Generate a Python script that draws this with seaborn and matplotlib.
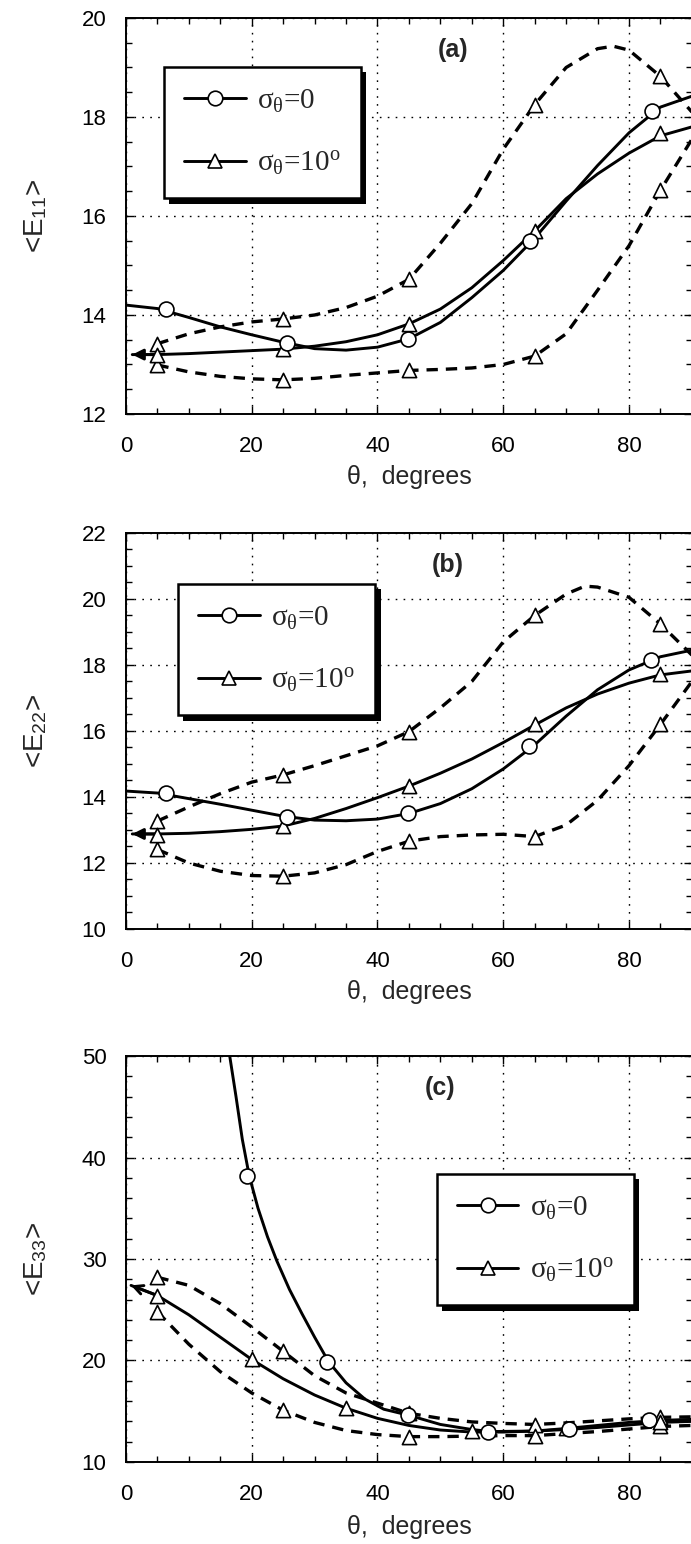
import numpy as np
import pandas as pd
import matplotlib
matplotlib.use("Agg")
import matplotlib.pyplot as plt
import matplotlib.patheffects as pe
from matplotlib.lines import Line2D
from matplotlib.ticker import MultipleLocator
import seaborn as sns

# ---------------- data ----------------
# panel (a) <E11>
a_s0_x = [0, 5, 10, 15, 20, 25, 30, 35, 40, 45, 50, 55, 60, 65, 70, 75, 80, 85, 90]
a_s0_y = [14.20, 14.13, 13.95, 13.76, 13.60, 13.45, 13.32, 13.29, 13.35, 13.52, 13.85,
          14.35, 14.90, 15.55, 16.30, 17.02, 17.68, 18.20, 18.42]
a_s10_x = [1, 5, 10, 15, 20, 25, 30, 35, 40, 45, 50, 55, 60, 65, 70, 75, 80, 85, 90]
a_s10_y = [13.20, 13.20, 13.22, 13.25, 13.28, 13.31, 13.37, 13.46, 13.60, 13.82, 14.12,
           14.55, 15.10, 15.70, 16.35, 16.85, 17.27, 17.62, 17.80]
a_up_x = [5, 10, 15, 20, 25, 30, 35, 40, 45, 50, 55, 60, 65, 70, 75, 77.5, 80, 85, 90]
a_up_y = [13.42, 13.62, 13.76, 13.86, 13.92, 14.00, 14.15, 14.38, 14.72, 15.45, 16.25,
          17.35, 18.25, 19.00, 19.38, 19.43, 19.35, 18.82, 18.10]
a_lo_x = [5, 10, 15, 20, 25, 30, 35, 40, 45, 50, 55, 60, 65, 70, 75, 80, 85, 90]
a_lo_y = [12.99, 12.85, 12.76, 12.71, 12.69, 12.72, 12.78, 12.83, 12.88, 12.90, 12.93,
          13.00, 13.17, 13.62, 14.50, 15.40, 16.52, 17.55]
a_circ_x = [6.4, 25.6, 44.8, 64.2, 83.6]
a_circ_y = [14.12, 13.44, 13.52, 15.50, 18.13]
a_tri_x = [5, 25, 45, 65, 85]
a_tri_y = [13.19, 13.31, 13.82, 15.70, 17.67]
a_triup_y = [13.42, 13.92, 14.72, 18.25, 18.82]
a_trilo_y = [12.99, 12.69, 12.88, 13.17, 16.52]

# panel (b) <E22>
b_s0_x = [0, 5, 10, 15, 20, 25, 30, 35, 40, 45, 50, 55, 60, 65, 70, 75, 80, 85, 90]
b_s0_y = [14.18, 14.12, 13.95, 13.78, 13.60, 13.42, 13.30, 13.28, 13.33, 13.50, 13.80,
          14.25, 14.85, 15.58, 16.45, 17.25, 17.85, 18.25, 18.45]
b_s10_x = [1, 5, 10, 15, 20, 25, 30, 35, 40, 45, 50, 55, 60, 65, 70, 75, 80, 85, 90]
b_s10_y = [12.88, 12.88, 12.90, 12.95, 13.02, 13.12, 13.35, 13.65, 13.98, 14.33, 14.72,
           15.15, 15.65, 16.18, 16.70, 17.12, 17.45, 17.70, 17.82]
b_up_x = [5, 10, 15, 20, 25, 30, 35, 40, 45, 50, 55, 60, 65, 70, 73, 75, 80, 85, 90]
b_up_y = [13.27, 13.70, 14.10, 14.45, 14.67, 14.95, 15.25, 15.55, 15.98, 16.70, 17.50,
          18.70, 19.50, 20.15, 20.39, 20.36, 20.05, 19.24, 18.30]
b_lo_x = [5, 10, 15, 20, 25, 30, 35, 40, 45, 50, 55, 60, 65, 70, 75, 80, 85, 90]
b_lo_y = [12.41, 12.00, 11.75, 11.62, 11.60, 11.70, 11.95, 12.35, 12.66, 12.80, 12.85,
          12.87, 12.80, 13.15, 13.90, 14.95, 16.20, 17.50]
b_circ_x = [6.3, 25.6, 44.8, 64.1, 83.5]
b_circ_y = [14.11, 13.40, 13.50, 15.55, 18.15]
b_tri_x = [5, 25, 45, 65, 85]
b_tri_y = [12.85, 13.12, 14.33, 16.20, 17.72]
b_triup_y = [13.27, 14.67, 15.98, 19.50, 19.24]
b_trilo_y = [12.41, 11.60, 12.66, 12.80, 16.20]

# panel (c) <E33>
c_s0_x = [16.5, 17.5, 18.5, 19.6, 21, 22.5, 24, 26, 28, 30, 32.2, 35, 38, 41, 45, 50,
          55, 58, 65, 70, 75, 80, 85, 90]
c_s0_y = [50.0, 46.0, 41.8, 38.2, 35.0, 32.2, 29.8, 27.0, 24.6, 22.3, 19.9, 17.8, 16.2,
          15.2, 14.6, 13.7, 13.2, 13.0, 13.05, 13.3, 13.6, 13.9, 14.1, 14.2]
c_s10_x = [0.8, 5, 10, 15, 20, 25, 30, 35, 40, 45, 50, 55, 60, 65, 70, 75, 80, 85, 90]
c_s10_y = [27.4, 26.4, 24.5, 22.3, 20.1, 18.2, 16.6, 15.3, 14.3, 13.6, 13.15, 12.95,
           12.95, 13.05, 13.2, 13.4, 13.65, 13.9, 14.0]
c_up_x = [5, 10, 15, 20, 25, 30, 35, 40, 45, 50, 55, 60, 65, 70, 75, 80, 85, 90]
c_up_y = [28.2, 27.4, 25.6, 23.3, 20.9, 18.5, 16.8, 15.8, 14.8, 14.3, 13.95, 13.8, 13.7,
          13.85, 14.05, 14.25, 14.4, 14.45]
c_lo_x = [5, 10, 15, 20, 25, 30, 35, 40, 45, 50, 55, 60, 65, 70, 75, 80, 85, 90]
c_lo_y = [24.8, 21.6, 18.9, 16.8, 15.1, 13.9, 13.1, 12.7, 12.5, 12.5, 12.55, 12.6, 12.6,
          12.8, 13.0, 13.25, 13.5, 13.6]
c_circ_x = [19.2, 32.0, 44.8, 57.6, 70.4, 83.2]
c_circ_y = [38.2, 19.9, 14.6, 13.0, 13.3, 14.1]
c_tri_x = [5, 20, 35, 55, 70, 85]
c_tri_y = [26.4, 20.1, 15.3, 13.1, 13.35, 13.9]
c_tridash_x = [5, 25, 45, 65, 85]
c_triup_y = [28.2, 20.9, 14.8, 13.6, 14.4]
c_trilo_y = [24.8, 15.1, 12.5, 12.6, 13.5]

legend_labels = [r'$\mathrm{\sigma_{\theta}}$=0', r'$\mathrm{\sigma_{\theta}}$=10$^{\mathrm{o}}$']
panel_tags = ['(a)', '(b)', '(c)']
ylabels = [r'<E$_{\mathsf{11}}$>', r'<E$_{\mathsf{22}}$>', r'<E$_{\mathsf{33}}$>']
xlabel = 'θ,  degrees'

# ---------------- style ----------------
sns.set_style('ticks')
plt.rcParams['font.family'] = ['Liberation Sans', 'DejaVu Sans']
plt.rcParams['mathtext.fontset'] = 'custom'
plt.rcParams['mathtext.rm'] = 'Liberation Serif'
plt.rcParams['mathtext.it'] = 'Liberation Serif:italic'
plt.rcParams['mathtext.bf'] = 'Liberation Serif:bold'
plt.rcParams['mathtext.sf'] = 'Liberation Sans'

fig = plt.figure(figsize=(6.91, 15.44), dpi=100)
W = 0.8190
axes = [fig.add_axes([0.1823, 0.73187, W, 0.25648]),
        fig.add_axes([0.1823, 0.39832, W, 0.25648]),
        fig.add_axes([0.1823, 0.05311, W, 0.26295])]

SOLID_LW = 2.1
DASH_LW = 2.4


def draw_curve(ax, x, y, dashed=False):
    sns.lineplot(x=x, y=y, ax=ax, color='k', lw=DASH_LW if dashed else SOLID_LW,
                 sort=False, estimator=None, legend=False, zorder=3)
    line = ax.lines[-1]
    if dashed:
        line.set_dashes([3.4, 2.4])
        line.set_dash_capstyle('butt')
    return line


def draw_markers(ax, x, y, marker):
    sns.scatterplot(x=x, y=y, ax=ax, marker=marker, s=115 if marker == 'o' else 105,
                    color='white', edgecolor='k', linewidth=1.2, zorder=5, legend=False,
                    clip_on=False)


def draw_arrow(ax, x, y, filled=True):
    ax.annotate('', xy=(x[0], y[0]), xytext=(x[1], y[1]),
                arrowprops=dict(arrowstyle='-|>' if filled else '->', color='k',
                                lw=SOLID_LW, mutation_scale=16, shrinkA=0, shrinkB=0),
                zorder=4)


panels = [
    dict(s0=(a_s0_x, a_s0_y), s10=(a_s10_x, a_s10_y), up=(a_up_x, a_up_y), lo=(a_lo_x, a_lo_y),
         circ=(a_circ_x, a_circ_y), tri=(a_tri_x, a_tri_y),
         tup=(a_tri_x, a_triup_y), tlo=(a_tri_x, a_trilo_y),
         ylim=(12, 20), ymaj=2, ymin=0.5, tag_xy=(52, 19.35), leg=(0.067, 0.876), filled=True),
    dict(s0=(b_s0_x, b_s0_y), s10=(b_s10_x, b_s10_y), up=(b_up_x, b_up_y), lo=(b_lo_x, b_lo_y),
         circ=(b_circ_x, b_circ_y), tri=(b_tri_x, b_tri_y),
         tup=(b_tri_x, b_triup_y), tlo=(b_tri_x, b_trilo_y),
         ylim=(10, 22), ymaj=2, ymin=0.5, tag_xy=(51.2, 21.04), leg=(0.092, 0.871), filled=True),
    dict(s0=(c_s0_x, c_s0_y), s10=(c_s10_x, c_s10_y), up=(c_up_x, c_up_y), lo=(c_lo_x, c_lo_y),
         circ=(c_circ_x, c_circ_y), tri=(c_tri_x, c_tri_y),
         tup=(c_tridash_x, c_triup_y), tlo=(c_tridash_x, c_trilo_y),
         ylim=(10, 50), ymaj=10, ymin=2, tag_xy=(50, 46.8), leg=(0.549, 0.709), filled=False),
]

for i, (ax, p) in enumerate(zip(axes, panels)):
    ax.set_xlim(0, 90)
    ax.set_ylim(*p['ylim'])
    ax.set_axisbelow(True)
    ax.grid(True, which='major', color='k', lw=1.0, linestyle=(0, (1.2, 4.5)))
    ax.xaxis.set_major_locator(MultipleLocator(20))
    ax.xaxis.set_minor_locator(MultipleLocator(5))
    ax.yaxis.set_major_locator(MultipleLocator(p['ymaj']))
    ax.yaxis.set_minor_locator(MultipleLocator(p['ymin']))
    ax.tick_params(which='both', direction='in', top=True, right=True, width=1.0, colors='k')
    ax.tick_params(which='major', length=6)
    ax.tick_params(which='minor', length=4.5)
    ax.tick_params(axis='x', which='major', pad=16, labelsize=16)
    ax.tick_params(axis='y', which='major', pad=14, labelsize=16)
    for sp in ax.spines.values():
        sp.set_linewidth(1.4)
        sp.set_color('k')

    draw_curve(ax, *p['up'], dashed=True)
    draw_curve(ax, *p['lo'], dashed=True)
    draw_curve(ax, *p['s0'])
    draw_curve(ax, *p['s10'])
    draw_arrow(ax, *p['s10'], filled=p['filled'])

    draw_markers(ax, *p['tup'], '^')
    draw_markers(ax, *p['tlo'], '^')
    draw_markers(ax, *p['tri'], '^')
    draw_markers(ax, *p['circ'], 'o')

    ax.text(*p['tag_xy'], panel_tags[i], fontsize=18, fontweight='bold', ha='center',
            va='center', zorder=6)

    ax.set_xlabel(xlabel, fontsize=18)
    ax.set_ylabel(ylabels[i], fontsize=20)
    ax.xaxis.set_label_coords(0.5, -0.13)
    ax.yaxis.set_label_coords(-0.135, 0.5)

    handles = [Line2D([], [], color='k', lw=SOLID_LW, marker='o', markersize=10.5,
                      markerfacecolor='white', markeredgecolor='k', markeredgewidth=1.2),
               Line2D([], [], color='k', lw=SOLID_LW, marker='^', markersize=10,
                      markerfacecolor='white', markeredgecolor='k', markeredgewidth=1.2)]
    leg = ax.legend(handles, legend_labels, loc='upper left', bbox_to_anchor=p['leg'],
                    borderaxespad=0, frameon=True, fancybox=False, framealpha=1,
                    edgecolor='k', facecolor='white', numpoints=1,
                    prop={'family': 'Liberation Serif', 'size': 21},
                    handlelength=2.1, handletextpad=0.4, borderpad=0.7,
                    labelspacing=1.2)
    fr = leg.get_frame()
    fr.set_linewidth(1.8)
    fr.set_path_effects([pe.SimplePatchShadow(offset=(3.8, -3.8), shadow_rgbFace='k',
                                              alpha=1.0), pe.Normal()])
    leg.set_zorder(7)

fig.savefig('out.png', dpi=100)
